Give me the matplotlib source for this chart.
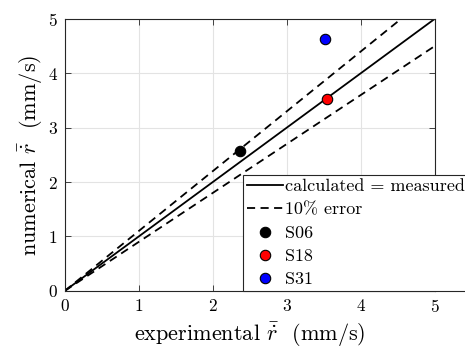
import numpy as np
import matplotlib
matplotlib.use("Agg")
import matplotlib.pyplot as plt

plt.rcParams['font.family'] = ['cmr10', 'DejaVu Serif']
plt.rcParams['mathtext.fontset'] = 'cm'
plt.rcParams['axes.formatter.use_mathtext'] = True
plt.rcParams['axes.unicode_minus'] = False

# Daten
names = ['S06', 'S18', 'S31']
exp_rate = [2.37, 3.54, 3.52]
num_rate = [2.58, 3.52, 4.63]
colors = ['black', 'red', 'blue']
ticks = [0, 1, 2, 3, 4, 5]
line_x = [0, 5]

fig = plt.figure(figsize=(4.65, 3.52), dpi=100)
ax = fig.add_axes([64.7 / 465, 61.1 / 352, 370 / 465, 272 / 352])

# Referenzlinien
ax.plot(line_x, line_x, color='black', lw=1.3, label='calculated = measured')
ax.plot(line_x, [1.1 * v for v in line_x], color='black', lw=1.3,
        linestyle=(0, (4.5, 3)), label='10% error')
ax.plot(line_x, [0.9 * v for v in line_x], color='black', lw=1.3,
        linestyle=(0, (4.5, 3)))

for n, xv, yv, c in zip(names, exp_rate, num_rate, colors):
    ax.plot([xv], [yv], 'o', color=c, markeredgecolor='black',
            markersize=7.5, markeredgewidth=0.8, label=n, zorder=5)

ax.set_xlim(0, 5)
ax.set_ylim(0, 5)
ax.set_xticks(ticks)
ax.set_yticks(ticks)
ax.grid(True, color='#e3e3e3', lw=0.8)
ax.set_axisbelow(True)
ax.tick_params(direction='in', top=True, right=True, length=4, width=0.6,
               labelsize=12.5, color='#262626', pad=5)
for s in ax.spines.values():
    s.set_linewidth(0.8)
    s.set_color('#262626')

ax.set_xlabel(r'experimental $\bar{\dot{r}}$  (mm/s)', fontsize=16, labelpad=4)
ax.set_ylabel(r'numerical $\bar{\dot{r}}$  (mm/s)', fontsize=16, labelpad=2)

leg = ax.legend(loc='lower left', bbox_to_anchor=(243 / 465, 61 / 352),
                bbox_transform=fig.transFigure, fontsize=13, frameon=True,
                fancybox=False, edgecolor='#262626', framealpha=1,
                handlelength=2.0, handletextpad=0.15, borderpad=0.2,
                labelspacing=0.42, borderaxespad=0)
leg.get_frame().set_linewidth(0.8)

fig.savefig('out.png', dpi=100)
